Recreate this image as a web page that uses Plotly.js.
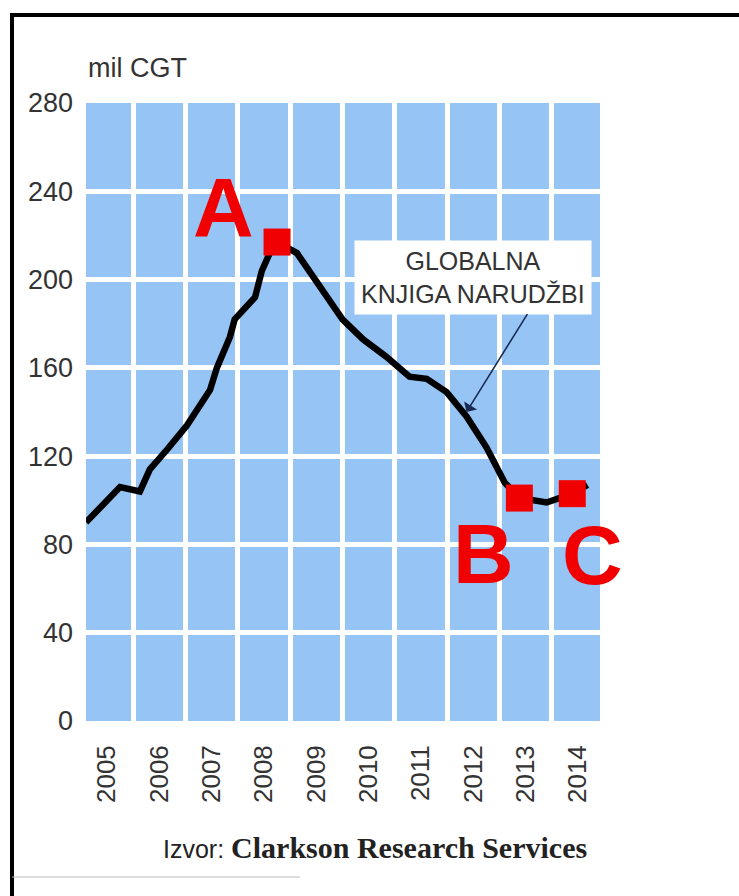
<!DOCTYPE html>
<html>
<head>
<meta charset="utf-8">
<script src="https://cdn.plot.ly/plotly-3.0.1.min.js"></script>
<style>
  html, body { margin: 0; padding: 0; background: #fff; }
  #chart { width: 739px; height: 896px; }
</style>
</head>
<body>
<div id="chart"></div>
<script>
// ---- data ----
const years = [2005, 2006, 2007, 2008, 2009, 2010, 2011, 2012, 2013, 2014];
const yTicks = [0, 40, 80, 120, 160, 200, 240, 280];
// global orderbook, mil CGT (time as decimal year)
const time = [2004.6, 2005.25, 2005.63, 2005.82, 2006.15, 2006.53, 2006.97, 2007.10, 2007.35, 2007.44,
              2007.83, 2007.96, 2008.11, 2008.25, 2008.63, 2009.20, 2009.50, 2009.89, 2010.34, 2010.78,
              2011.11, 2011.49, 2011.87, 2012.25, 2012.60, 2012.88, 2013.40, 2013.89, 2014.18];
const orderbook = [90, 106, 104, 114, 123, 134, 150, 160, 174, 182,
                   192, 204, 212, 217, 212, 192, 182, 173, 165, 156,
                   155, 149, 138, 124, 108, 101, 99, 103, 107];
const pointLabels = ['A', 'B', 'C'];
const pointTime = [2008.25, 2012.88, 2013.89];
const pointValue = [217, 101, 103];
const seriesLabel = 'GLOBALNA<br>KNJIGA NARUDŽBI';
const yUnit = 'mil CGT';
const sourceLabel = 'Izvor:';
const sourceName = 'Clarkson Research Services';

// ---- layout geometry ----
const W = 739, H = 896;
const M = { l: 86, r: 139, t: 103, b: 175 };
const PW = W - M.l - M.r, PH = H - M.t - M.b;
const px = x => (x - M.l) / PW;          // pixel -> paper x
const py = y => (H - M.b - y) / PH;      // pixel -> paper y

const gridYears = years.slice(0, -1).map(y => y + 0.5);
const letterShift = [[-54, 34], [-36, -56], [20, -61]];

const traces = [
  {
    x: time, y: orderbook, type: 'scatter', mode: 'lines',
    line: { color: '#000', width: 6.5 }, hoverinfo: 'skip'
  },
  {
    x: pointTime, y: pointValue, type: 'scatter', mode: 'markers',
    marker: { symbol: 'square', size: 27, color: '#f00000' }, hoverinfo: 'skip'
  }
];

const annotations = pointLabels.map((lab, i) => ({
  x: pointTime[i], y: pointValue[i], xref: 'x', yref: 'y',
  text: '<b>' + lab + '</b>', showarrow: false,
  xshift: letterShift[i][0], yshift: letterShift[i][1],
  xanchor: 'center', yanchor: 'middle',
  font: { family: 'Liberation Sans, Arial, sans-serif', size: 84, color: '#f00000' }
}));

annotations.push({
  x: 2012.0, y: 201, xref: 'x', yref: 'y',
  text: seriesLabel, showarrow: false, align: 'center',
  xanchor: 'center', yanchor: 'middle',
  bgcolor: '#ffffff', borderpad: 6,
  font: { family: 'Liberation Sans, Arial, sans-serif', size: 25, color: '#333' }
});
annotations.push({
  x: 2011.87, y: 140, xref: 'x', yref: 'y',
  ax: 2013.05, ay: 185, axref: 'x', ayref: 'y',
  text: '', showarrow: true, arrowhead: 1, arrowsize: 1.6, arrowwidth: 1.6,
  arrowcolor: '#1b2a55'
});
annotations.push({
  x: 0, y: py(68), xref: 'paper', yref: 'paper', xanchor: 'left', yanchor: 'middle',
  text: yUnit, showarrow: false,
  font: { family: 'Liberation Sans, Arial, sans-serif', size: 27, color: '#333' }
});
annotations.push({
  x: px(375), y: py(847), xref: 'paper', yref: 'paper', xanchor: 'center', yanchor: 'middle',
  text: sourceLabel + ' <span style="font-family:Liberation Serif, Times New Roman, serif;font-weight:bold;font-size:30px">' + sourceName + '</span>',
  showarrow: false,
  font: { family: 'Liberation Sans, Arial, sans-serif', size: 25, color: '#222' }
});

const shapes = [
  { type: 'line', xref: 'paper', yref: 'paper', x0: px(10), x1: px(W), y0: py(15), y1: py(15),
    line: { color: '#000', width: 4 } },
  { type: 'line', xref: 'paper', yref: 'paper', x0: px(12), x1: px(12), y0: py(15), y1: py(H),
    line: { color: '#000', width: 4 } },
  { type: 'line', xref: 'paper', yref: 'paper', x0: px(12), x1: px(300), y0: py(877), y1: py(877),
    line: { color: '#bbb', width: 1 } }
];

const layout = {
  width: W, height: H,
  margin: M,
  paper_bgcolor: '#ffffff',
  plot_bgcolor: '#96c5f5',
  showlegend: false,
  xaxis: {
    range: [2004.6, 2014.42],
    tickmode: 'array', tickvals: years, ticktext: years.map(String),
    tickangle: -90, ticks: '', ticklabelstandoff: 18,
    showgrid: false, zeroline: false, showline: false,
    tickfont: { family: 'Liberation Sans, Arial, sans-serif', size: 26, color: '#333' },
    minor: { tickmode: 'array', tickvals: gridYears, showgrid: true, gridcolor: '#ffffff', gridwidth: 5, ticks: '' }
  },
  yaxis: {
    range: [0, 280],
    tickmode: 'array', tickvals: yTicks, ticks: '', ticklabelstandoff: 12,
    showgrid: true, gridcolor: '#ffffff', gridwidth: 5,
    zeroline: false, showline: false,
    tickfont: { family: 'Liberation Sans, Arial, sans-serif', size: 27, color: '#333' }
  },
  annotations: annotations,
  shapes: shapes
};

Plotly.newPlot('chart', traces, layout, { staticPlot: true, displayModeBar: false });
</script>
</body>
</html>
